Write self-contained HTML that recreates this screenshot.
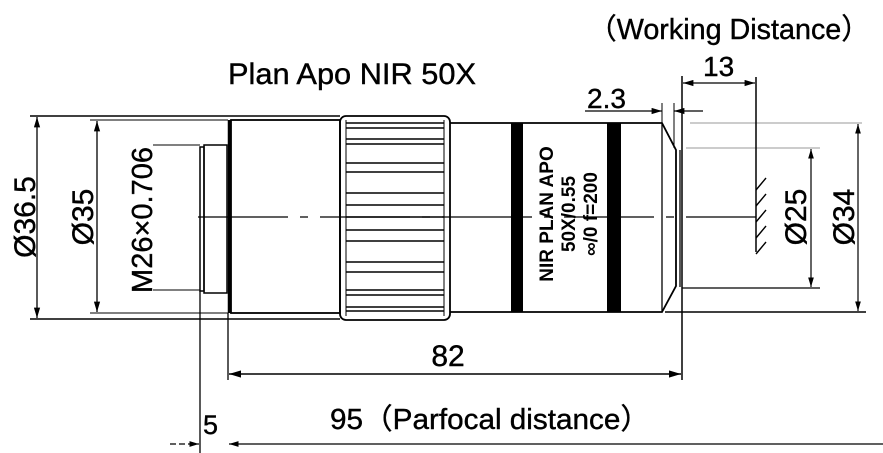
<!DOCTYPE html>
<html><head><meta charset="utf-8"><style>
html,body{margin:0;padding:0;background:#fff;}
svg{display:block;}
text{font-family:"Liberation Sans",Arial,sans-serif;fill:#000;}
</style></head><body>
<svg width="883" height="453" viewBox="0 0 883 453" xmlns="http://www.w3.org/2000/svg">
<defs>
<marker id="a" viewBox="0 0 10 6" refX="10" refY="3" markerWidth="8" markerHeight="5" orient="auto-start-reverse"><path d="M0,0 L10,3 L0,6z" fill="#000"/></marker>
</defs>
<g stroke="#000" fill="none">
<line x1="30" y1="116" x2="340" y2="116" stroke-width="1.5"/>
<line x1="30" y1="319" x2="340" y2="319" stroke-width="1.5"/>
<line x1="37" y1="117" x2="37" y2="318" stroke-width="1.3" marker-start="url(#a)" marker-end="url(#a)"/>
<line x1="90" y1="120" x2="228" y2="120" stroke-width="1"/>
<line x1="90" y1="313" x2="228" y2="313" stroke-width="1"/>
<line x1="97" y1="121" x2="97" y2="312" stroke-width="1.3" marker-start="url(#a)" marker-end="url(#a)"/>
<line x1="153" y1="145" x2="200" y2="145" stroke-width="1"/>
<line x1="153" y1="290" x2="200" y2="290" stroke-width="1"/>
<rect x="200" y="147" width="4" height="144" stroke-width="1.5"/>
<rect x="204" y="145" width="23" height="148" stroke-width="1.5"/>
<line x1="229.5" y1="120" x2="229.5" y2="313" stroke-width="3.5"/>
<rect x="231" y="120" width="109" height="193" stroke-width="1.8"/>
<rect x="340" y="116" width="110" height="204" rx="6" stroke-width="1.8"/>
<line x1="346" y1="120" x2="346" y2="316" stroke-width="1"/>
<line x1="444" y1="120" x2="444" y2="316" stroke-width="1"/>
<g stroke-width="1.6">
<line x1="346" y1="123" x2="444" y2="123"/><line x1="346" y1="128" x2="444" y2="128"/>
<line x1="346" y1="139" x2="444" y2="139"/><line x1="346" y1="144" x2="444" y2="144"/>
<line x1="346" y1="163" x2="444" y2="163"/><line x1="346" y1="172" x2="444" y2="172"/>
<line x1="346" y1="193" x2="444" y2="193"/><line x1="346" y1="205" x2="444" y2="205"/>
<line x1="346" y1="217" x2="444" y2="217"/><line x1="346" y1="230" x2="444" y2="230"/>
<line x1="346" y1="241" x2="444" y2="241"/><line x1="346" y1="262" x2="444" y2="262"/>
<line x1="346" y1="272" x2="444" y2="272"/><line x1="346" y1="290" x2="444" y2="290"/>
<line x1="346" y1="295" x2="444" y2="295"/><line x1="346" y1="307" x2="444" y2="307"/>
<line x1="346" y1="311" x2="444" y2="311"/>
</g>
<path d="M450,123 L662,123 L676,150 L676,286 L662,312 L450,312" stroke-width="1.8"/>
<line x1="662" y1="123" x2="662" y2="312" stroke-width="1.3"/>
<line x1="680" y1="150" x2="680" y2="287" stroke-width="1.3"/>
<rect x="511" y="123" width="12" height="189" fill="#000" stroke="none"/>
<rect x="607" y="123" width="14" height="189" fill="#000" stroke="none"/>
<line x1="198" y1="217" x2="756" y2="217" stroke-width="1.3" stroke-dasharray="90,12,8,12"/>
<line x1="682" y1="76" x2="682" y2="380" stroke-width="1.5"/>
<line x1="690" y1="123" x2="862" y2="123" stroke-width="0.8" stroke="#777"/>
<line x1="686" y1="148" x2="820" y2="148" stroke-width="0.8" stroke="#777"/>
<line x1="682" y1="288" x2="820" y2="288" stroke-width="1.3"/>
<line x1="665" y1="312" x2="866" y2="312" stroke-width="1.5"/>
<line x1="811" y1="149" x2="811" y2="287" stroke-width="1.2" marker-start="url(#a)" marker-end="url(#a)"/>
<line x1="858" y1="124" x2="858" y2="311" stroke-width="1.2" marker-start="url(#a)" marker-end="url(#a)"/>
<line x1="756" y1="77" x2="756" y2="252" stroke-width="1.5"/>
<g stroke-width="1.4">
<line x1="756" y1="190" x2="766" y2="178"/><line x1="756" y1="206" x2="766" y2="194"/>
<line x1="756" y1="222" x2="766" y2="210"/><line x1="756" y1="238" x2="766" y2="226"/>
<line x1="756" y1="254" x2="766" y2="242"/>
</g>
<line x1="683" y1="83" x2="755" y2="83" stroke-width="1.3" marker-start="url(#a)" marker-end="url(#a)"/>
<line x1="585" y1="111" x2="662" y2="111" stroke-width="1.3" marker-end="url(#a)"/>
<line x1="674" y1="111" x2="703" y2="111" stroke-width="1.3" marker-start="url(#a)"/>
<line x1="662" y1="103" x2="662" y2="123" stroke-width="1"/>
<line x1="674" y1="103" x2="674" y2="148" stroke-width="1"/>
<line x1="228" y1="313" x2="228" y2="380" stroke-width="1.3"/>
<line x1="229" y1="374" x2="681" y2="374" stroke-width="1.5" marker-start="url(#a)" marker-end="url(#a)"/>
<line x1="200" y1="291" x2="200" y2="453" stroke-width="1.3"/>
<line x1="170" y1="444" x2="199" y2="444" stroke-width="1.2" stroke-dasharray="6,3" marker-end="url(#a)"/>
<line x1="229" y1="444" x2="883" y2="444" stroke-width="1.2" marker-start="url(#a)"/>
</g>
<g stroke="#000" stroke-width="0.4">
<text x="588" y="39" font-size="29" textLength="282" lengthAdjust="spacingAndGlyphs">（Working Distance）</text>
<text x="228" y="84" font-size="30" textLength="248" lengthAdjust="spacingAndGlyphs">Plan Apo NIR 50X</text>
<text x="703" y="76" font-size="28">13</text>
<text x="587" y="108" font-size="28">2.3</text>
<text x="448" y="366" font-size="30" text-anchor="middle">82</text>
<text x="203" y="434" font-size="27">5</text>
<text x="330" y="429" font-size="29" textLength="320" lengthAdjust="spacingAndGlyphs">95（Parfocal distance）</text>
<text transform="translate(35,217) rotate(-90)" font-size="30" text-anchor="middle">Ø36.5</text>
<text transform="translate(93,217) rotate(-90)" font-size="30" text-anchor="middle">Ø35</text>
<text transform="translate(152,220) rotate(-90)" font-size="29" text-anchor="middle">M26×0.706</text>
<text transform="translate(806,217) rotate(-90)" font-size="30" text-anchor="middle">Ø25</text>
<text transform="translate(854,217) rotate(-90)" font-size="30" text-anchor="middle">Ø34</text>
</g>
<g font-weight="bold" font-size="19">
<text transform="translate(553,214) rotate(-90)" text-anchor="middle">NIR PLAN APO</text>
<text transform="translate(575,214) rotate(-90)" text-anchor="middle">50X/0.55</text>
<text transform="translate(597,214) rotate(-90)" text-anchor="middle">∞/0 f=200</text>
</g>
</svg>
</body></html>
